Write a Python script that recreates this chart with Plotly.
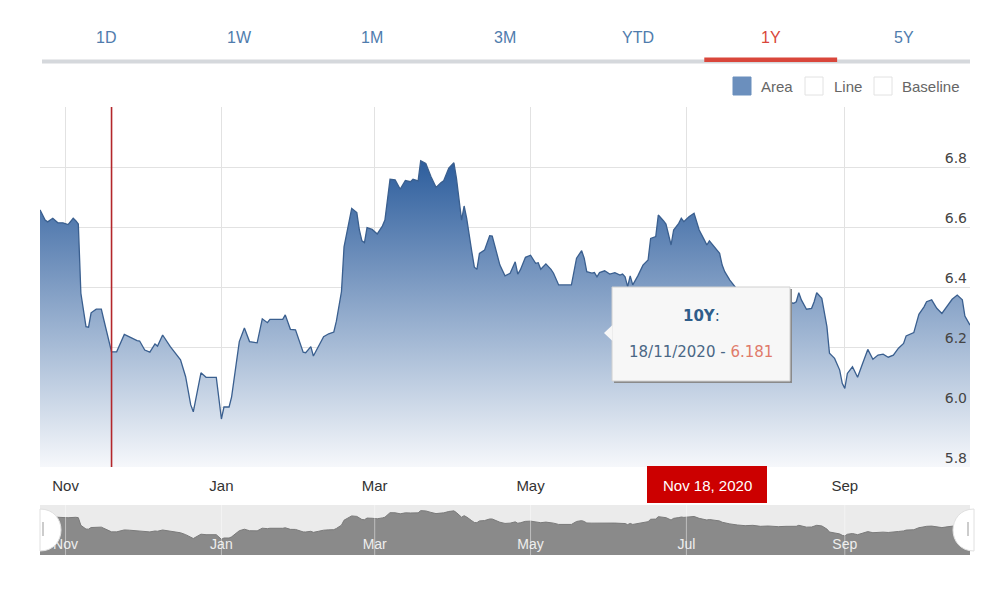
import plotly.graph_objects as go

# ---------------- data ----------------
dates = [
    "2019-10-22", "2019-10-24", "2019-10-25", "2019-10-27", "2019-10-29", "2019-10-31",
    "2019-11-02", "2019-11-04", "2019-11-05", "2019-11-06", "2019-11-07", "2019-11-09",
    "2019-11-10", "2019-11-11", "2019-11-13", "2019-11-15", "2019-11-16", "2019-11-18",
    "2019-11-19", "2019-11-21", "2019-11-24", "2019-11-26", "2019-11-29", "2019-11-30",
    "2019-12-02", "2019-12-04", "2019-12-06", "2019-12-07", "2019-12-09", "2019-12-12",
    "2019-12-14", "2019-12-16", "2019-12-18", "2019-12-20", "2019-12-21", "2019-12-24",
    "2019-12-26", "2019-12-30", "2020-01-01", "2020-01-02", "2020-01-04", "2020-01-05",
    "2020-01-08", "2020-01-10", "2020-01-12", "2020-01-15", "2020-01-17", "2020-01-19",
    "2020-01-20", "2020-01-25", "2020-01-26", "2020-01-28", "2020-01-30", "2020-02-02",
    "2020-02-03", "2020-02-05", "2020-02-06", "2020-02-08", "2020-02-10", "2020-02-12",
    "2020-02-14", "2020-02-15", "2020-02-17", "2020-02-18", "2020-02-21", "2020-02-23",
    "2020-02-24", "2020-02-25", "2020-02-26", "2020-02-27", "2020-02-29", "2020-03-02",
    "2020-03-04", "2020-03-05", "2020-03-07", "2020-03-09", "2020-03-11", "2020-03-13",
    "2020-03-15", "2020-03-16", "2020-03-18", "2020-03-19", "2020-03-21", "2020-03-23",
    "2020-03-25", "2020-03-27", "2020-03-28", "2020-03-30", "2020-04-01", "2020-04-02",
    "2020-04-04", "2020-04-05", "2020-04-06", "2020-04-08", "2020-04-09", "2020-04-10",
    "2020-04-11", "2020-04-13", "2020-04-15", "2020-04-16", "2020-04-18", "2020-04-19",
    "2020-04-21", "2020-04-23", "2020-04-25", "2020-04-26", "2020-04-27", "2020-04-29",
    "2020-05-01", "2020-05-03", "2020-05-04", "2020-05-05", "2020-05-07", "2020-05-09",
    "2020-05-10", "2020-05-12", "2020-05-17", "2020-05-19", "2020-05-21", "2020-05-22",
    "2020-05-23", "2020-05-25", "2020-05-26", "2020-05-27", "2020-05-28", "2020-05-30",
    "2020-06-01", "2020-06-03", "2020-06-05", "2020-06-06", "2020-06-07", "2020-06-08",
    "2020-06-09", "2020-06-10", "2020-06-12", "2020-06-14", "2020-06-16", "2020-06-17",
    "2020-06-19", "2020-06-20", "2020-06-22", "2020-06-23", "2020-06-25", "2020-06-26",
    "2020-06-28", "2020-06-29", "2020-06-30", "2020-07-02", "2020-07-04", "2020-07-06",
    "2020-07-08", "2020-07-09", "2020-07-10", "2020-07-12", "2020-07-14", "2020-07-15",
    "2020-07-16", "2020-07-18", "2020-07-21", "2020-07-24", "2020-07-27", "2020-07-30",
    "2020-08-02", "2020-08-06", "2020-08-09", "2020-08-12", "2020-08-13", "2020-08-14",
    "2020-08-15", "2020-08-17", "2020-08-19", "2020-08-20", "2020-08-21", "2020-08-23",
    "2020-08-25", "2020-08-26", "2020-08-28", "2020-08-30", "2020-08-31", "2020-09-01",
    "2020-09-02", "2020-09-04", "2020-09-06", "2020-09-08", "2020-09-10", "2020-09-12",
    "2020-09-14", "2020-09-16", "2020-09-18", "2020-09-20", "2020-09-22", "2020-09-24",
    "2020-09-25", "2020-09-28", "2020-09-30", "2020-10-02", "2020-10-03", "2020-10-05",
    "2020-10-07", "2020-10-09", "2020-10-11", "2020-10-13", "2020-10-15", "2020-10-17",
    "2020-10-18", "2020-10-20",
]

yield_10y = [
    6.657, 6.623, 6.617, 6.629, 6.614, 6.614,
    6.608, 6.629, 6.621, 6.610, 6.379, 6.268,
    6.266, 6.314, 6.326, 6.326, 6.290, 6.212,
    6.184, 6.184, 6.242, 6.234, 6.221, 6.220,
    6.190, 6.183, 6.210, 6.203, 6.240, 6.201,
    6.177, 6.157, 6.101, 6.007, 5.984, 6.114,
    6.099, 6.099, 5.960, 6.000, 6.000, 6.034,
    6.218, 6.263, 6.218, 6.214, 6.294, 6.281,
    6.292, 6.292, 6.307, 6.259, 6.257, 6.183,
    6.181, 6.201, 6.170, 6.201, 6.234, 6.244,
    6.250, 6.286, 6.385, 6.534, 6.662, 6.648,
    6.590, 6.554, 6.548, 6.598, 6.592, 6.577,
    6.603, 6.623, 6.759, 6.757, 6.726, 6.755,
    6.751, 6.759, 6.754, 6.821, 6.812, 6.768,
    6.732, 6.748, 6.754, 6.796, 6.814, 6.762,
    6.623, 6.670, 6.629, 6.518, 6.466, 6.459,
    6.512, 6.523, 6.571, 6.570, 6.503, 6.473,
    6.437, 6.446, 6.484, 6.443, 6.457, 6.499,
    6.506, 6.479, 6.481, 6.459, 6.477, 6.459,
    6.446, 6.407, 6.407, 6.496, 6.521, 6.496,
    6.451, 6.446, 6.448, 6.434, 6.448, 6.454,
    6.443, 6.448, 6.440, 6.443, 6.434, 6.401,
    6.437, 6.407, 6.437, 6.473, 6.490, 6.562,
    6.568, 6.640, 6.621, 6.610, 6.540, 6.590,
    6.612, 6.629, 6.618, 6.634, 6.646, 6.590,
    6.557, 6.540, 6.554, 6.534, 6.512, 6.473,
    6.451, 6.423, 6.390, 6.370, 6.380, 6.350,
    6.360, 6.340, 6.350, 6.346, 6.351, 6.381,
    6.357, 6.326, 6.329, 6.351, 6.381, 6.362,
    6.268, 6.179, 6.162, 6.123, 6.079, 6.062,
    6.112, 6.134, 6.099, 6.146, 6.192, 6.159,
    6.173, 6.176, 6.166, 6.173, 6.196, 6.212,
    6.237, 6.248, 6.309, 6.334, 6.351, 6.357,
    6.329, 6.312, 6.334, 6.359, 6.373, 6.357,
    6.303, 6.273,
]

month_ticks = ["2019-11-01", "2020-01-01", "2020-03-01", "2020-05-01", "2020-07-01", "2020-09-01"]
month_labels = ["Nov", "Jan", "Mar", "May", "Jul", "Sep"]
# on the main axis the "Jul" label sits under the crosshair date box, so it is not shown there
main_month_labels = ["Nov", "Jan", "Mar", "May", "", "Sep"]
y_ticks = [5.8, 6.0, 6.2, 6.4, 6.6, 6.8, 7.0]
y_labels = ["5.8", "6.0", "6.2", "6.4", "6.6", "6.8", ""]
x_range = ["2019-10-22", "2020-10-20"]

tabs = ["1D", "1W", "1M", "3M", "YTD", "1Y", "5Y"]
active_tab = "1Y"
legend_items = ["Area", "Line", "Baseline"]
series_name = "10Y"
crosshair_date = "2019-11-19"
tooltip_date = "18/11/2020"
tooltip_value = "6.181"
crosshair_label = "Nov 18, 2020"

# ---------------- page geometry helpers (pixel -> paper) ----------------
W, H = 1000, 590
L, R, T, B = 40, 30, 107, 35
PW, PH = W - L - R, H - T - B


def px(x):
    return (x - L) / PW


def py(y):
    return (H - B - y) / PH


SANS = "Liberation Sans, Arial, sans-serif"
VERD = "DejaVu Sans, Verdana, sans-serif"

fig = go.Figure()

# main area series
fig.add_trace(go.Scatter(
    x=dates, y=yield_10y, mode="lines", name=series_name,
    line=dict(color="#3a5f8f", width=1.3),
    fill="tozeroy",
    fillgradient=dict(type="vertical", colorscale=[[0, "#f6f8fb"], [1, "#2b5c9c"]],
                      start=5.8, stop=6.83),
    xaxis="x", yaxis="y", hoverinfo="skip",
))

# navigator series
fig.add_trace(go.Scatter(
    x=dates, y=yield_10y, mode="lines", name="navigator",
    line=dict(color="#7a7a7a", width=1),
    fill="tozeroy", fillcolor="#8a8a8a",
    xaxis="x2", yaxis="y2", hoverinfo="skip",
))

shapes = []
annotations = []

# tabs
tab_w = PW / len(tabs)
for i, t in enumerate(tabs):
    cx = L + tab_w * (i + 0.5)
    annotations.append(dict(
        x=px(cx), y=py(37), xref="paper", yref="paper", text=t, showarrow=False,
        xanchor="center", yanchor="middle",
        font=dict(family=SANS, size=16, color="#d9463b" if t == active_tab else "#4f7cad"),
    ))
shapes.append(dict(type="rect", xref="paper", yref="paper", x0=px(42), x1=px(970),
                   y0=py(63.5), y1=py(59.5), fillcolor="#d5d8dc", line=dict(width=0)))
ai = tabs.index(active_tab)
shapes.append(dict(type="rect", xref="paper", yref="paper",
                   x0=px(L + tab_w * ai), x1=px(L + tab_w * (ai + 1)),
                   y0=py(62), y1=py(57.5), fillcolor="#d9463b", line=dict(width=0)))

# legend (chart-type selector)
leg_boxes = [(733, "#6b8fbd"), (805, "white"), (874, "white")]
leg_text_x = [759, 832, 900]
for (bx, col), tx, name in zip(leg_boxes, leg_text_x, legend_items):
    shapes.append(dict(type="rect", xref="paper", yref="paper", x0=px(bx), x1=px(bx + 18),
                       y0=py(95), y1=py(77), fillcolor=col,
                       line=dict(color="#6b8fbd" if col != "white" else "#e2e2e2", width=1)))
    annotations.append(dict(x=px(tx), y=py(86), xref="paper", yref="paper", text=name,
                            showarrow=False, xanchor="left", yanchor="middle",
                            font=dict(family=SANS, size=15, color="#666")))

# red crosshair
shapes.append(dict(type="line", xref="x", yref="y domain", x0=crosshair_date, x1=crosshair_date,
                   y0=0, y1=1, line=dict(color="#b3262b", width=1.6), layer="above"))

# crosshair label on x axis
shapes.append(dict(type="rect", xref="paper", yref="paper", x0=px(647), x1=px(767),
                   y0=py(503), y1=py(466), fillcolor="#cc0000", line=dict(width=0)))
annotations.append(dict(x=px(707), y=py(485), xref="paper", yref="paper", text=crosshair_label,
                        showarrow=False, xanchor="center", yanchor="middle",
                        font=dict(family=SANS, size=15, color="white")))

# tooltip
shapes.append(dict(type="rect", xref="paper", yref="paper", x0=px(614), x1=px(792),
                   y0=py(383), y1=py(289), fillcolor="#8a8a8a", line=dict(width=0), layer="above"))
shapes.append(dict(type="rect", xref="paper", yref="paper", x0=px(612), x1=px(790),
                   y0=py(381), y1=py(287), fillcolor="#f7f7f7", line=dict(color="#d0d0d0", width=1),
                   layer="above"))
shapes.append(dict(type="path", xref="paper", yref="paper",
                   path=f"M {px(612.5)},{py(325)} L {px(604)},{py(333)} L {px(612.5)},{py(341)} Z",
                   fillcolor="#f7f7f7", line=dict(width=0), layer="above"))
annotations.append(dict(x=px(701), y=py(316), xref="paper", yref="paper",
                        text=f"<b>{series_name}</b>:", showarrow=False,
                        xanchor="center", yanchor="middle",
                        font=dict(family=VERD, size=15, color="#2f5d8a")))
annotations.append(dict(x=px(701), y=py(352), xref="paper", yref="paper",
                        text=f"{tooltip_date} - <span style='color:#e07b6a'>{tooltip_value}</span>",
                        showarrow=False, xanchor="center", yanchor="middle",
                        font=dict(family=VERD, size=15, color="#4a6785")))

# navigator background, grid lines and handles
shapes.append(dict(type="rect", xref="x2 domain", yref="y2 domain", x0=0, x1=1, y0=0, y1=1,
                   fillcolor="#ebebeb", line=dict(width=0), layer="below"))
for d in month_ticks:
    shapes.append(dict(type="line", xref="x2", yref="y2 domain", x0=d, x1=d, y0=0, y1=1,
                       line=dict(color="rgba(255,255,255,0.45)", width=1), layer="above"))
shapes.append(dict(type="path", xref="paper", yref="paper",
                   path=f"M {px(40)},{py(509)} C {px(68)},{py(509)} {px(68)},{py(551)} {px(40)},{py(551)} Z",
                   fillcolor="white", line=dict(color="#e0e0e0", width=1), layer="above"))
shapes.append(dict(type="path", xref="paper", yref="paper",
                   path=f"M {px(974)},{py(509)} C {px(946)},{py(509)} {px(946)},{py(551)} {px(974)},{py(551)} Z",
                   fillcolor="white", line=dict(color="#e0e0e0", width=1), layer="above"))
for hx in (43, 968):
    shapes.append(dict(type="line", xref="paper", yref="paper", x0=px(hx), x1=px(hx),
                       y0=py(536), y1=py(522), line=dict(color="#aaaaaa", width=1.2), layer="above"))

fig.update_layout(
    width=W, height=H,
    margin=dict(l=L, r=R, t=T, b=B),
    paper_bgcolor="white", plot_bgcolor="white",
    showlegend=False,
    xaxis=dict(domain=[0, 1], anchor="y", type="date", range=x_range,
               tickvals=month_ticks, ticktext=main_month_labels,
               showgrid=True, gridcolor="#e2e2e2", gridwidth=1,
               zeroline=False, showline=False, ticks="",
               ticklabelstandoff=8,
               tickfont=dict(family=SANS, size=15, color="#333")),
    yaxis=dict(domain=[(H - B - 467) / PH, 1], anchor="x", range=[5.8, 7.0],
               side="right", tickvals=y_ticks, ticktext=y_labels,
               ticklabelposition="inside top", layer="above traces",
               ticklabelshift=1,
               showgrid=True, gridcolor="#e2e2e2", gridwidth=1,
               zeroline=False, showline=False, ticks="",
               tickfont=dict(family=VERD, size=14, color="#444")),
    xaxis2=dict(domain=[0, 1], anchor="y2", type="date", range=x_range,
                tickvals=month_ticks, ticktext=month_labels,
                ticklabelposition="inside", layer="above traces",
                showgrid=False, zeroline=False, showline=False, ticks="",
                tickfont=dict(family=SANS, size=14, color="#eeeeee")),
    yaxis2=dict(domain=[0, 50 / PH], anchor="x2", range=[5.49, 6.99],
                showticklabels=False, showgrid=False, zeroline=False, showline=False),
    shapes=shapes,
    annotations=annotations,
)

fig.write_html("out.html", config={"displayModeBar": False})
